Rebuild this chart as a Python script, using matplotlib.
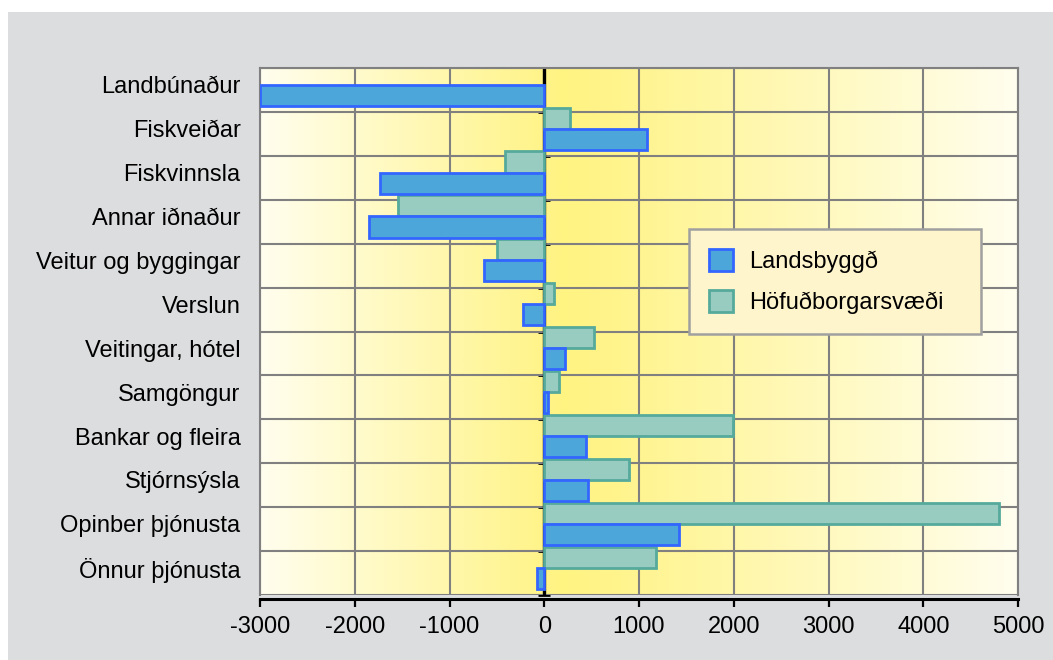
import matplotlib
matplotlib.use('Agg')
import matplotlib.pyplot as plt
import numpy as np
from matplotlib.colors import LinearSegmentedColormap
from matplotlib.patches import Rectangle, Patch

categories = ['Landbúnaður', 'Fiskveiðar', 'Fiskvinnsla', 'Annar iðnaður',
              'Veitur og byggingar', 'Verslun', 'Veitingar, hótel', 'Samgöngur',
              'Bankar og fleira', 'Stjórnsýsla', 'Opinber þjónusta', 'Önnur þjónusta']
landsbyggd = [-3000, 1085, -1735, -1850, -635, -225, 220, 40, 440, 465, 1425, -75]
hofudborg = [0, 270, -415, -1545, -500, 100, 525, 160, 1990, 895, 4800, 1175]
series_names = ['Landsbyggð', 'Höfuðborgarsvæði']
xticks = [-3000, -2000, -1000, 0, 1000, 2000, 3000, 4000, 5000]

plt.rcParams['font.family'] = ['Liberation Sans', 'DejaVu Sans']

W, H = 1053, 660
fig = plt.figure(figsize=(W / 100, H / 100), dpi=100, facecolor='white')
fig.patches.append(Rectangle((8 / W, 0), 1 - 8 / W, 648 / H, transform=fig.transFigure,
                             facecolor='#DCDDDF', edgecolor='none', zorder=-10))

ax = fig.add_axes([260 / W, 1 - 595 / H, 758 / W, 527 / H])

# background gradient
grad = np.linspace(0, 1, 512).reshape(1, -1)
cmap = LinearSegmentedColormap.from_list('g', [(0, '#FFFEEE'), (0.40, '#FFF382'),
                                               (0.47, '#FFF48C'), (1, '#FFFEEE')])
ax.imshow(grad, aspect='auto', cmap=cmap, extent=[0, 1, 0, 1], transform=ax.transAxes,
          zorder=0, interpolation='bilinear')

y = np.arange(len(categories))
h_vals = np.array(hofudborg, dtype=float)
l_vals = np.array(landsbyggd, dtype=float)
h_plot = np.where(h_vals == 0, np.nan, h_vals)
l_plot = np.where(l_vals == 0, np.nan, l_vals)

ax.axvline(0, color='black', lw=2.4, zorder=2.5)
ax.barh(y + 0.14, h_plot, height=0.48, color='#99CCC0', edgecolor='#55AA9C',
        linewidth=2.0, zorder=3)
ax.barh(y + 0.62, l_plot, height=0.48, color='#4DA6D9', edgecolor='#3366FF',
        linewidth=2.0, zorder=3)

ax.set_xlim(-3000, 5000)
ax.set_ylim(12, 0)
ax.set_xticks(xticks)
ax.set_xticklabels([str(v) for v in xticks])
ax.set_yticks(y + 0.38)
ax.set_yticklabels(categories)
ax.set_yticks(np.arange(0, 13), minor=True)

ax.set_axisbelow(True)
ax.grid(axis='x', which='major', color='#808080', lw=1.5, zorder=1)
ax.grid(axis='y', which='minor', color='#808080', lw=1.5, zorder=1)
ax.grid(axis='y', which='major', visible=False)

ax.tick_params(axis='y', which='both', length=0, labelsize=17, pad=14)
ax.tick_params(axis='x', which='major', direction='out', length=6, width=1.6,
               color='black', labelsize=17, pad=6)

for s in ['top', 'left', 'right']:
    ax.spines[s].set_color('#808080')
    ax.spines[s].set_linewidth(1.5)
ax.spines['bottom'].set_color('black')
ax.spines['bottom'].set_linewidth(2.2)
ax.spines['bottom'].set_position(('outward', 3))

# small ticks on the zero axis
sec = ax.secondary_yaxis(3 / 8)
sec.set_yticks(np.arange(1, 13))
sec.tick_params(direction='inout', length=8, width=2.0, color='black',
                labelleft=False, labelright=False)
sec.spines['left'].set_visible(False)
sec.spines['right'].set_visible(False)

handles = [Patch(facecolor='#4DA6D9', edgecolor='#3366FF', linewidth=2.0),
           Patch(facecolor='#99CCC0', edgecolor='#55AA9C', linewidth=2.0)]
leg = ax.legend(handles, series_names, loc='upper left',
                bbox_to_anchor=(0.566, 0.497, 0.385, 0.198), mode='expand',
                fontsize=17, frameon=True, fancybox=False, edgecolor='#A0A0A0',
                facecolor='#FFF5CC', framealpha=1, borderpad=0.85, labelspacing=0.72,
                handlelength=1.0, handleheight=1.05, handletextpad=0.7, borderaxespad=0)
leg.get_frame().set_linewidth(1.8)
leg.set_zorder(5)

fig.savefig('out.png', dpi=100, facecolor='white')
